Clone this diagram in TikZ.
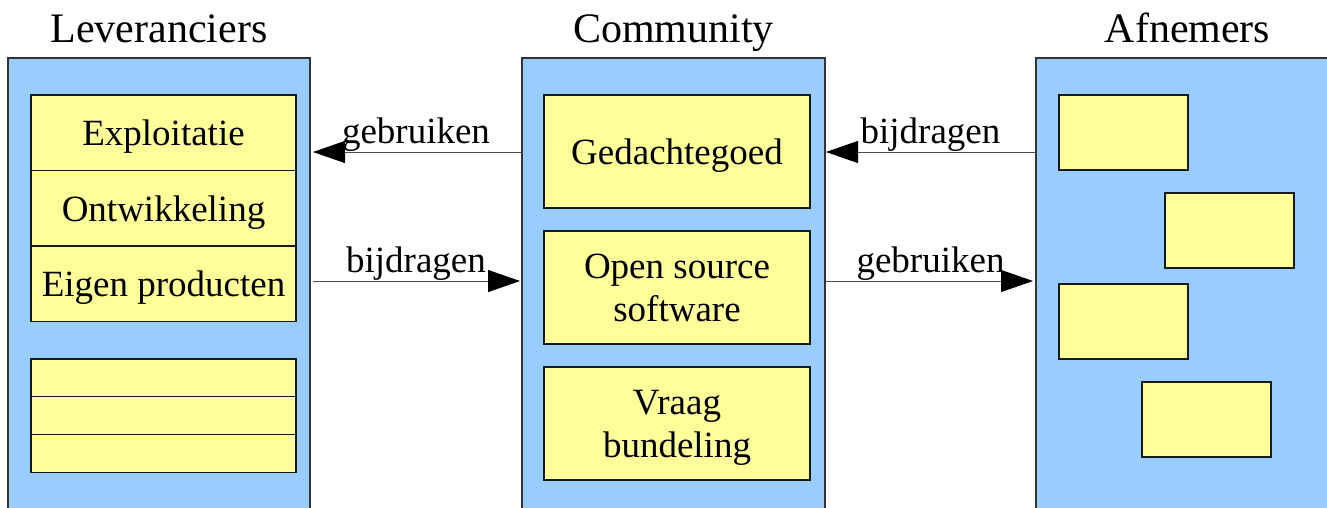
\documentclass[tikz,border=0pt]{standalone}
\usepackage{fontspec}
\setmainfont{Liberation Serif}
\usetikzlibrary{positioning,arrows.meta}

\definecolor{paneelblauw}{HTML}{99CCFF}
\definecolor{vakgeel}{HTML}{FFFF99}

\begin{document}
\begin{tikzpicture}[x=1pt,y=-1pt,
    paneel/.style={draw=black!80,fill=paneelblauw,line width=1.1pt,inner sep=0pt,outer sep=0pt,
      minimum width=302pt,minimum height=480pt},
    titel/.style={font=\fontsize{42}{48}\selectfont,inner sep=0pt,text depth=0pt},
    vak/.style={draw=black!90,fill=vakgeel,line width=1.2pt,inner sep=0pt,outer sep=0pt,align=center,
      text depth=0pt,font=\fontsize{37}{43}\selectfont},
    pijl/.style={-{Triangle[length=32pt,width=22pt,color=black]},draw=black!70,line width=1pt},
    pijltekst/.style={midway,above,inner sep=0pt,font=\fontsize{37}{43}\selectfont}]
    \useasboundingbox (0,0) rectangle (1327,507);

    % Panels
    \node[paneel,anchor=north] (lev) at (159,58) {};
    \node[paneel,anchor=north,minimum width=303pt] (com) at (673.5,58) {};
    \node[paneel,anchor=north west,minimum width=303pt] (afn) at (1036,58) {};

    % Titles
    \node[titel,above=15pt of lev] {Leveranciers};
    \node[titel,above=15pt of com] {Community};
    \node[titel,above=15pt of afn] {Afnemers};

    % Leveranciers
    \node[vak,anchor=north,minimum width=265pt,minimum height=75.5pt] (expl) at (163.5,95) {Exploitatie};
    \node[vak,below=0pt of expl,minimum width=265pt,minimum height=75.5pt] (ontw) {Ontwikkeling};
    \node[vak,below=0pt of ontw,minimum width=265pt,minimum height=75.5pt] (eigen) {Eigen producten};
    \node[vak,below=37.5pt of eigen,minimum width=265pt,minimum height=37.7pt] (leeg1) {};
    \node[vak,below=0pt of leeg1,minimum width=265pt,minimum height=37.7pt] (leeg2) {};
    \node[vak,below=0pt of leeg2,minimum width=265pt,minimum height=37.7pt] (leeg3) {};

    % Community
    \node[vak,anchor=north,minimum width=266pt,minimum height=113pt] (ged) at (677,95) {Gedachtegoed};
    \node[vak,below=23pt of ged,minimum width=266pt,minimum height=113pt] (oss) {Open source\\software};
    \node[vak,below=23pt of oss,minimum width=266pt,minimum height=113pt] (vraag) {Vraag\\bundeling};

    % Afnemers
    \foreach \i/\x/\y in {1/1059/95,2/1165/193,3/1059/284,4/1142/382}
      \node[vak,anchor=north west,minimum width=129pt,minimum height=75pt] (afn\i) at (\x,\y) {};

    % Arrows
    \coordinate (terug) at (0,152);
    \coordinate (heen) at (0,281);
    \draw[pijl,shorten <=0.5pt,shorten >=3pt] (com.west |- terug) -- (lev.east |- terug) node[pijltekst] {gebruiken};
    \draw[pijl,shorten <=3pt,shorten >=2pt] (lev.east |- heen) -- (com.west |- heen) node[pijltekst] {bijdragen};
    \draw[pijl,shorten <=0.5pt,shorten >=1pt] (afn.west |- terug) -- (com.east |- terug) node[pijltekst] {bijdragen};
    \draw[pijl,shorten <=1pt,shorten >=3pt] (com.east |- heen) -- (afn.west |- heen) node[pijltekst] {gebruiken};
\end{tikzpicture}
\end{document}
